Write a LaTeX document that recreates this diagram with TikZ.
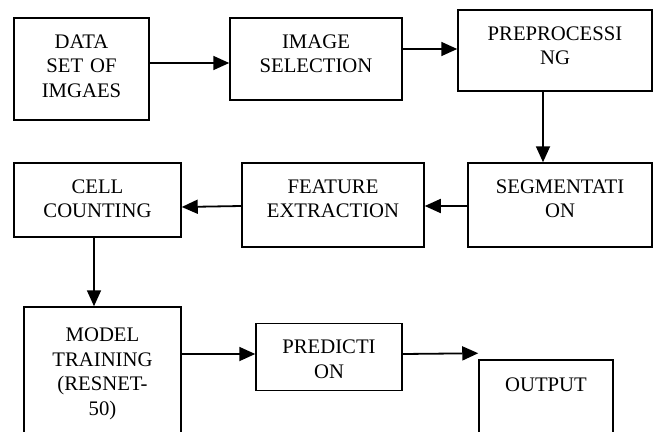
\documentclass[tikz,border=0pt]{standalone}
\usepackage{fontspec}
\setmainfont{Liberation Serif}
\usetikzlibrary{arrows.meta, positioning}
\tikzset{
  every picture/.style={line width=1.5pt},
  blk/.style={draw, inner sep=0pt, align=center, text height=30pt,
    font=\fontsize{20.7}{24.5}\selectfont},
  arrow/.style={-{Triangle[length=16pt, width=14pt]}, line width=1.8pt},
}
\begin{document}
\begin{tikzpicture}[x=1pt, y=-1pt]
  \clip (0,0) rectangle (658,431);
  % first row
  \node[blk, text width=135pt, text depth=72pt] (data) at (81.5,69) {DATA\\SET OF\\IMGAES};
  \node[blk, text width=172pt, text depth=52pt] (sel) at (316,59) {IMAGE\\SELECTION};
  \node[blk, text width=194pt, text depth=51pt] (pre) at (555,50.5) {PREPROCESSI\\NG};
  % second row
  \node[blk, text width=184pt, text depth=54pt] (seg) at (560,205) {SEGMENTATI\\ON};
  \node[blk, text width=182pt, text depth=54pt] (feat) at (333,205) {FEATURE\\EXTRACTION};
  \node[blk, text width=167pt, text depth=44pt] (cell) at (97.5,200) {CELL\\COUNTING};
  % third row
  \node[blk, text width=157pt, text height=34.5pt, text depth=115.5pt] (model) at (102.5,382)
    {MODEL\\TRAINING\\(RESNET-\\50)};
  \node[blk, text width=146pt, text depth=37pt] (pred) at (329,357) {PREDICTI\\ON};
  \node[blk, text width=134pt, text height=31pt, text depth=69pt] (out) at (546,410) {OUTPUT};
  \coordinate[above=6pt of out.north west] (outtip);
  % arrows
  \draw[arrow] ([yshift=6pt]data.east) -- ([yshift=-4pt]sel.west);
  \draw[arrow] ([yshift=10pt]sel.east) -- ([yshift=1.5pt]pre.west);
  \draw[arrow] ([xshift=-12pt]pre.south) -- ([xshift=-17pt]seg.north);
  \draw[arrow] ([yshift=-1pt]seg.west) -- ([yshift=-1pt]feat.east);
  \draw[arrow] ([yshift=-1pt]feat.west) -- ([yshift=-7pt]cell.east);
  \draw[arrow] ([xshift=-3.5pt]cell.south) -- ([xshift=-8.5pt]model.north);
  \draw[arrow] ([yshift=28pt]model.east) -- ([yshift=3pt]pred.west);
  \draw[arrow] ([yshift=3pt]pred.east) -- (outtip);
\end{tikzpicture}
\end{document}
